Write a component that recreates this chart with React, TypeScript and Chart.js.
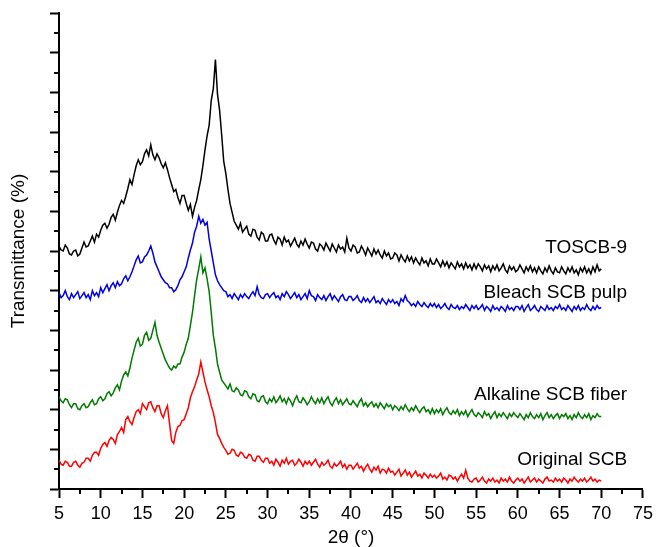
import React, { useEffect, useRef } from "react";
import { Chart, registerables } from "chart.js";

Chart.register(...registerables);

// 2θ sampling grid (degrees), 5.00 .. 70.00 every 0.25
const TWO_THETA: number[] = Array.from({ length: 261 }, (_, i) => 5 + i * 0.25);

// Intensities (a.u., offset-stacked as in the figure); one row = 5°
const TOSCB_9: number[] = [
  245, 241, 240, 246, 243, 237, 236, 240, 241, 235, 237, 243, 249, 244, 245, 250, 255, 249, 257, 254,
  261, 266, 268, 263, 267, 274, 277, 271, 279, 286, 291, 288, 295, 303, 312, 307, 317, 326, 332, 327,
  330, 338, 342, 336, 347, 337, 332, 338, 334, 328, 324, 329, 322, 314, 307, 300, 302, 294, 288, 296,
  296, 288, 281, 287, 275, 284, 291, 302, 312, 326, 342, 356, 367, 392, 404, 433, 398, 382, 357, 330,
  318, 302, 288, 279, 270, 266, 262, 268, 259, 262, 265, 257, 255, 262, 261, 254, 251, 259, 257, 250,
  250, 256, 257, 251, 247, 254, 252, 246, 254, 249, 251, 245, 249, 253, 247, 244, 250, 246, 252, 247,
  243, 249, 248, 242, 240, 247, 245, 241, 248, 244, 240, 247, 243, 239, 246, 242, 244, 239, 253, 243,
  240, 246, 244, 238, 239, 245, 241, 236, 243, 239, 235, 242, 237, 241, 236, 233, 240, 235, 238, 232,
  233, 238, 236, 230, 236, 232, 229, 235, 230, 234, 228, 233, 229, 226, 233, 228, 230, 225, 232, 227,
  227, 232, 228, 224, 230, 225, 229, 223, 228, 225, 222, 229, 224, 227, 222, 228, 223, 226, 221, 227,
  222, 227, 224, 220, 226, 222, 225, 219, 225, 221, 226, 220, 223, 227, 221, 218, 225, 221, 224, 219,
  221, 226, 222, 218, 224, 220, 225, 219, 223, 218, 224, 220, 217, 223, 219, 225, 220, 217, 223, 219,
  218, 224, 220, 217, 223, 219, 224, 218, 221, 216, 223, 219, 224, 218, 222, 217, 224, 219, 226, 220,
  222,
];

const BLEACH_SCB_PULP: number[] = [
  198, 193, 195, 200, 194, 191, 197, 193, 196, 199, 192, 195, 198, 193, 196, 191, 200, 195, 198, 194,
  203, 198, 202, 206, 200, 205, 208, 203, 209, 205, 207, 212, 215, 210, 214, 219, 225, 231, 235, 228,
  229, 234, 236, 240, 245, 238, 229, 224, 219, 214, 211, 208, 207, 203, 203, 199, 201, 205, 211, 214,
  219, 224, 233, 241, 248, 259, 265, 275, 268, 272, 266, 269, 252, 240, 228, 216, 210, 206, 203, 200,
  199, 194, 196, 192, 197, 194, 191, 196, 193, 197, 194, 192, 196, 199, 195, 204, 196, 193, 192, 196,
  197, 193, 196, 198, 193, 195, 191, 197, 194, 199, 196, 192, 195, 198, 193, 196, 191, 194, 197, 192,
  200, 195, 194, 190, 196, 193, 191, 195, 190, 194, 197, 191, 195, 192, 189, 194, 196, 191, 190, 194,
  194, 190, 192, 195, 190, 188, 193, 189, 192, 188, 191, 194, 188, 190, 187, 192, 189, 186, 191, 188,
  191, 187, 189, 185, 192, 189, 195, 190, 188, 185, 187, 184, 189, 186, 184, 188, 185, 183, 187, 184,
  187, 183, 186, 182, 184, 187, 183, 181, 186, 183, 182, 185, 181, 184, 182, 186, 183, 180, 185, 182,
  185, 181, 183, 186, 180, 184, 182, 179, 185, 181, 183, 180, 184, 182, 179, 185, 181, 183, 180, 184,
  184, 181, 185, 179, 183, 186, 180, 182, 185, 181, 179, 184, 182, 180, 185, 181, 183, 180, 184, 182,
  186, 181, 183, 180, 185, 182, 179, 184, 181, 185, 180, 183, 181, 186, 182, 180, 184, 181, 185, 182,
  183,
];

const ALKALINE_SCB_FIBER: number[] = [
  93, 89, 87, 91, 90, 85, 82, 86, 86, 81, 80, 84, 86, 82, 83, 87, 90, 85, 86, 91,
  93, 89, 91, 96, 98, 94, 97, 102, 105, 100, 109, 115, 118, 114, 122, 132, 140, 148, 152, 144,
  146, 155, 158, 150, 152, 160, 168, 155, 148, 142, 136, 130, 126, 122, 120, 124, 122, 126, 126, 133,
  138, 146, 152, 165, 178, 195, 211, 222, 234, 218, 223, 212, 199, 178, 155, 142, 126, 118, 110, 107,
  104, 101, 106, 99, 98, 102, 100, 95, 94, 99, 98, 93, 91, 96, 95, 89, 88, 93, 94, 88,
  86, 91, 88, 93, 87, 90, 94, 88, 91, 86, 92, 89, 84, 90, 94, 88, 87, 92, 89, 85,
  88, 93, 89, 86, 91, 87, 92, 86, 90, 93, 87, 84, 89, 92, 86, 90, 85, 88, 91, 86,
  85, 89, 86, 83, 88, 91, 84, 87, 83, 86, 88, 83, 86, 82, 87, 84, 81, 86, 83, 85,
  80, 84, 82, 79, 83, 80, 85, 81, 78, 82, 79, 84, 80, 77, 81, 83, 78, 80, 76, 81,
  76, 80, 77, 81, 75, 79, 82, 77, 75, 79, 76, 80, 74, 78, 75, 79, 73, 77, 80, 75,
  73, 77, 75, 72, 78, 74, 76, 71, 75, 78, 72, 76, 73, 77, 74, 71, 76, 73, 77, 74,
  72, 76, 73, 70, 75, 72, 77, 73, 71, 75, 72, 76, 70, 74, 77, 72, 75, 71, 74, 76,
  71, 75, 73, 76, 71, 74, 70, 75, 72, 77, 73, 71, 75, 72, 76, 70, 74, 72, 76, 73,
  73,
];

const ORIGINAL_SCB: number[] = [
  29, 25, 24, 28, 27, 23, 23, 27, 28, 24, 22, 26, 27, 31, 31, 28, 34, 37, 37, 34,
  41, 45, 47, 43, 49, 52, 50, 46, 55, 58, 62, 57, 70, 73, 68, 65, 72, 78, 80, 76,
  86, 83, 80, 87, 88, 82, 78, 84, 84, 76, 72, 79, 84, 66, 49, 46, 57, 63, 64, 69,
  70, 76, 82, 92, 98, 103, 110, 116, 128, 118, 108, 100, 93, 84, 77, 67, 55, 51, 46, 42,
  39, 35, 36, 40, 39, 34, 33, 37, 36, 32, 31, 35, 34, 29, 28, 33, 33, 29, 27, 31,
  31, 26, 28, 24, 30, 27, 23, 29, 26, 31, 25, 28, 29, 24, 26, 30, 27, 23, 28, 25,
  28, 24, 27, 30, 25, 22, 27, 24, 26, 29, 23, 21, 26, 23, 25, 28, 22, 25, 20, 24,
  24, 20, 23, 26, 21, 23, 18, 22, 25, 20, 17, 22, 19, 23, 16, 20, 19, 16, 21, 17,
  18, 14, 17, 20, 13, 16, 19, 14, 17, 12, 15, 18, 13, 15, 11, 16, 14, 11, 15, 12,
  14, 11, 13, 16, 10, 12, 9, 14, 13, 10, 12, 8, 12, 15, 11, 19, 11, 8, 7, 10,
  11, 7, 9, 12, 8, 6, 10, 8, 11, 7, 9, 6, 11, 8, 10, 7, 12, 8, 6, 9,
  11, 8, 10, 6, 9, 12, 7, 9, 11, 7, 10, 8, 6, 10, 12, 8, 9, 7, 11, 8,
  10, 7, 11, 9, 6, 10, 8, 12, 9, 7, 10, 8, 11, 7, 9, 12, 8, 10, 7, 9,
  8,
];

const SERIES_NAMES: string[] = ["TOSCB-9", "Bleach SCB pulp", "Alkaline SCB fiber", "Original SCB"];
const X_TICK_LABELS: number[] = [5, 10, 15, 20, 25, 30, 35, 40, 45, 50, 55, 60, 65, 70, 75];
const Y_MAJOR_TICKS: number[] = [0, 40, 80, 120, 160, 200, 240, 280, 320, 360, 400, 440, 480];

export default function App() {
  const canvasRef = useRef<HTMLCanvasElement | null>(null);

  useEffect(() => {
    const canvas = canvasRef.current;
    if (!canvas) return;
    const FONT = "'Liberation Sans', Arial, Helvetica, sans-serif";
    const COLORS = ["#000000", "#0000e6", "#007a00", "#ff0000"];
    const SERIES = [TOSCB_9, BLEACH_SCB_PULP, ALKALINE_SCB_FIBER, ORIGINAL_SCB];
    // label anchors in data coordinates (right-aligned text)
    const LABEL_POS = [
      { x: 73.1, y: 243 },
      { x: 73.1, y: 198 },
      { x: 73.1, y: 95 },
      { x: 73.1, y: 29 },
    ];

    const extras = {
      id: "extras",
      afterDraw(chart: any) {
        const { ctx, chartArea, scales } = chart;
        const xs = scales.x;
        const ys = scales.y;
        ctx.save();
        ctx.strokeStyle = "#000";
        ctx.lineWidth = 2;
        ctx.beginPath();
        for (let i = 0; i < Y_MAJOR_TICKS.length - 1; i++) {
          const v = (Y_MAJOR_TICKS[i] + Y_MAJOR_TICKS[i + 1]) / 2;
          const py = Math.round(ys.getPixelForValue(v));
          ctx.moveTo(chartArea.left - 5, py);
          ctx.lineTo(chartArea.left, py);
        }
        for (let i = 0; i < X_TICK_LABELS.length - 1; i++) {
          const v = (X_TICK_LABELS[i] + X_TICK_LABELS[i + 1]) / 2;
          const px = Math.round(xs.getPixelForValue(v));
          ctx.moveTo(px, chartArea.bottom);
          ctx.lineTo(px, chartArea.bottom + 5);
        }
        ctx.stroke();

        ctx.fillStyle = "#000";
        ctx.font = `19px ${FONT}`;
        ctx.textAlign = "right";
        ctx.textBaseline = "middle";
        SERIES_NAMES.forEach((name, i) => {
          ctx.fillText(name, xs.getPixelForValue(LABEL_POS[i].x), ys.getPixelForValue(LABEL_POS[i].y));
        });
        ctx.restore();
      },
    };

    const chart = new Chart(canvas, {
      type: "line",
      data: {
        datasets: SERIES.map((s, k) => ({
          label: SERIES_NAMES[k],
          data: TWO_THETA.map((t, i) => ({ x: t, y: s[i] })),
          borderColor: COLORS[k],
          borderWidth: 1.5,
          pointRadius: 0,
          tension: 0,
          fill: false,
        })),
      },
      options: {
        responsive: false,
        animation: false,
        events: [],
        layout: { padding: { left: 0, right: 15, top: 13, bottom: 0 } },
        plugins: {
          legend: { display: false },
          tooltip: { enabled: false },
        },
        scales: {
          x: {
            type: "linear",
            min: 5,
            max: 75,
            afterBuildTicks: (s: any) => {
              s.ticks = X_TICK_LABELS.map((v) => ({ value: v }));
            },
            afterFit: (s: any) => {
              s.height = 58;
            },
            ticks: {
              color: "#000",
              font: { family: FONT, size: 18 },
              padding: 5,
              maxRotation: 0,
              autoSkip: false,
            },
            grid: {
              drawOnChartArea: false,
              color: "#000",
              tickColor: "#000",
              tickLength: 9,
              tickWidth: 2,
            },
            border: { color: "#000", width: 2 },
            title: {
              display: true,
              text: "2θ (°)",
              color: "#000",
              font: { family: FONT, size: 19 },
              padding: { top: 0, bottom: -2 },
            },
          },
          y: {
            type: "linear",
            min: 0,
            max: 480,
            afterBuildTicks: (s: any) => {
              s.ticks = Y_MAJOR_TICKS.map((v) => ({ value: v }));
            },
            afterFit: (s: any) => {
              s.width = 59;
            },
            ticks: { display: false },
            grid: {
              drawOnChartArea: false,
              color: "#000",
              tickColor: "#000",
              tickLength: 9,
              tickWidth: 2,
            },
            border: { color: "#000", width: 2 },
            title: {
              display: true,
              text: "Transmittance (%)",
              color: "#000",
              font: { family: FONT, size: 19 },
              padding: { top: 7, bottom: 0 },
            },
          },
        },
      },
      plugins: [extras],
    } as any);

    return () => chart.destroy();
  }, []);

  return (
    <div style={{ position: "fixed", left: 0, top: 0, width: 658, height: 547, background: "#fff" }}>
      <canvas ref={canvasRef} width={658} height={547} style={{ display: "block" }} />
    </div>
  );
}
